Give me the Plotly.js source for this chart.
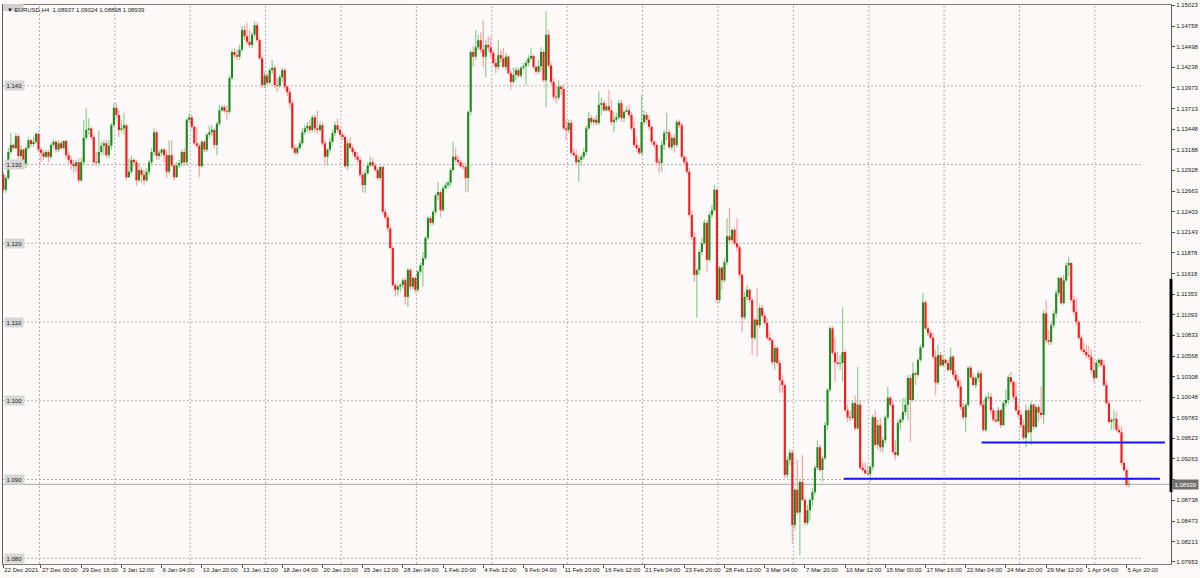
<!DOCTYPE html>
<html><head><meta charset="utf-8">
<script src="https://cdn.plot.ly/plotly-3.0.1.min.js"></script>
<style>html,body{margin:0;padding:0;background:#fffafa;}#chart{width:1200px;height:578px;}</style>
</head><body><div id="chart"></div>
<script>
// EURUSD H4 candles
const opens = [
1.1287,1.1268,1.1283,1.1316,1.1325,1.1321,1.1336,1.1311,1.1319,1.1301,
1.1321,1.1331,1.1326,1.1329,1.1339,1.1319,1.1315,1.1310,1.1316,1.1310,
1.1325,1.1329,1.1319,1.1327,1.1321,1.1330,1.1312,1.1306,1.1301,1.1298,
1.1303,1.1280,1.1303,1.1334,1.1344,1.1346,1.1335,1.1303,1.1302,1.1316,
1.1324,1.1327,1.1312,1.1324,1.1350,1.1372,1.1363,1.1344,1.1346,1.1350,
1.1284,1.1291,1.1306,1.1303,1.1280,1.1293,1.1287,1.1280,1.1291,1.1303,
1.1316,1.1341,1.1311,1.1315,1.1319,1.1312,1.1291,1.1312,1.1299,1.1284,
1.1299,1.1302,1.1316,1.1303,1.1357,1.1360,1.1348,1.1327,1.1324,1.1298,
1.1329,1.1319,1.1338,1.1341,1.1344,1.1325,1.1352,1.1369,1.1373,1.1368,
1.1367,1.1410,1.1443,1.1439,1.1437,1.1446,1.1471,1.1463,1.1456,1.1452,
1.1465,1.1477,1.1458,1.1435,1.1401,1.1413,1.1404,1.1420,1.1423,1.1401,
1.1400,1.1411,1.1420,1.1399,1.1392,1.1378,1.1321,1.1315,1.1321,1.1327,
1.1341,1.1346,1.1349,1.1344,1.1360,1.1346,1.1344,1.1350,1.1327,1.1310,
1.1319,1.1329,1.1340,1.1350,1.1344,1.1338,1.1335,1.1298,1.1327,1.1321,
1.1316,1.1310,1.1306,1.1287,1.1274,1.1289,1.1299,1.1303,1.1299,1.1293,
1.1283,1.1297,1.1240,1.1233,1.1219,1.1194,1.1147,1.1141,1.1145,1.1147,
1.1153,1.1132,1.1166,1.1145,1.1156,1.1141,1.1164,1.1172,1.1181,1.1207,
1.1232,1.1226,1.1240,1.1261,1.1265,1.1242,1.1270,1.1274,1.1277,1.1293,
1.1310,1.1306,1.1303,1.1298,1.1297,1.1283,1.1367,1.1443,1.1437,1.1449,
1.1458,1.1446,1.1437,1.1452,1.1449,1.1442,1.1429,1.1424,1.1439,1.1435,
1.1424,1.1437,1.1416,1.1405,1.1414,1.1420,1.1413,1.1423,1.1425,1.1429,
1.1435,1.1438,1.1424,1.1418,1.1425,1.1443,1.1407,1.1465,1.1426,1.1405,
1.1386,1.1385,1.1399,1.1396,1.1346,1.1344,1.1353,1.1315,1.1312,1.1303,
1.1306,1.1310,1.1316,1.1346,1.1359,1.1354,1.1357,1.1353,1.1376,1.1378,
1.1369,1.1374,1.1369,1.1354,1.1357,1.1360,1.1378,1.1359,1.1367,1.1369,
1.1363,1.1346,1.1325,1.1321,1.1315,1.1354,1.1363,1.1357,1.1348,1.1329,
1.1325,1.1303,1.1302,1.1325,1.1340,1.1341,1.1322,1.1334,1.1325,1.1354,
1.1350,1.1310,1.1303,1.1291,1.1236,1.1208,1.1160,1.1166,1.1189,1.1200,
1.1226,1.1179,1.1236,1.1242,1.1268,1.1128,1.1169,1.1153,1.1176,1.1209,
1.1204,1.1217,1.1200,1.1195,1.1160,1.1106,1.1132,1.1141,1.1128,1.1080,
1.1103,1.1096,1.1118,1.1108,1.1099,1.1080,1.1077,1.1049,1.1067,1.1048,
1.1026,1.1020,1.0906,1.0925,1.0934,1.0842,1.0887,1.0858,1.0897,1.0874,
1.0845,1.0861,1.0874,1.0884,1.0915,1.0941,1.0912,1.0927,1.0969,1.1014,
1.1092,1.1061,1.1049,1.1047,1.1048,1.1062,1.0988,1.0979,1.0978,1.0997,
1.0965,1.0995,1.0915,1.0912,1.0908,1.0907,1.0916,1.0979,1.0944,1.0969,
1.0941,1.0950,1.0979,1.1004,1.0995,1.0935,1.0931,1.0972,1.0976,1.0986,
1.0995,1.1029,1.1001,1.1035,1.1033,1.1052,1.1068,1.1125,1.1092,1.1086,
1.1080,1.1056,1.1023,1.1058,1.1045,1.1052,1.1048,1.1039,1.1056,1.1033,
1.1026,1.1018,1.0992,1.0979,1.0995,1.1042,1.1030,1.1020,1.1029,1.1035,
1.0995,1.0963,1.1004,1.1005,1.0988,1.0976,1.0974,1.0988,1.0969,1.0997,
1.1001,1.1030,1.1024,1.1005,1.0988,1.0982,1.0969,1.0953,1.0988,1.0960,
1.0995,1.0967,1.0992,1.0985,1.0982,1.1111,1.1077,1.1075,1.1096,1.1111,
1.1137,1.1156,1.1124,1.1153,1.1172,1.1175,1.1128,1.1113,1.1100,1.1080,
1.1065,1.1062,1.1058,1.1056,1.1039,1.1029,1.1048,1.1052,1.1045,1.1020,
1.0997,1.0973,1.0976,1.0977,1.0963,1.0960,1.0921,1.0912,1.08937];
const highs = [
1.1291,1.1286,1.1321,1.1340,1.1327,1.1340,1.1339,1.1325,1.1321,1.1324,
1.1335,1.1332,1.1335,1.1341,1.1341,1.1322,1.1319,1.1319,1.1319,1.1327,
1.1332,1.1331,1.1331,1.1330,1.1331,1.1331,1.1316,1.1311,1.1306,1.1306,
1.1308,1.1308,1.1357,1.1372,1.1359,1.1348,1.1338,1.1316,1.1343,1.1329,
1.1331,1.1331,1.1331,1.1353,1.1378,1.1378,1.1369,1.1357,1.1366,1.1352,
1.1308,1.1311,1.1308,1.1306,1.1302,1.1297,1.1293,1.1296,1.1306,1.1321,
1.1346,1.1344,1.1319,1.1321,1.1321,1.1319,1.1331,1.1331,1.1302,1.1303,
1.1306,1.1319,1.1321,1.1359,1.1366,1.1363,1.1350,1.1348,1.1327,1.1331,
1.1331,1.1340,1.1350,1.1350,1.1346,1.1354,1.1376,1.1376,1.1376,1.1374,
1.1413,1.1446,1.1448,1.1446,1.1452,1.1476,1.1477,1.1480,1.1471,1.1468,
1.1482,1.1481,1.1461,1.1439,1.1418,1.1416,1.1423,1.1433,1.1426,1.1410,
1.1414,1.1423,1.1423,1.1401,1.1397,1.1382,1.1325,1.1324,1.1331,1.1346,
1.1350,1.1354,1.1357,1.1363,1.1363,1.1369,1.1354,1.1354,1.1331,1.1321,
1.1334,1.1344,1.1354,1.1359,1.1348,1.1341,1.1338,1.1331,1.1335,1.1325,
1.1319,1.1316,1.1310,1.1291,1.1293,1.1303,1.1310,1.1308,1.1302,1.1296,
1.1299,1.1299,1.1244,1.1236,1.1223,1.1197,1.1150,1.1148,1.1150,1.1156,
1.1156,1.1169,1.1169,1.1158,1.1158,1.1166,1.1175,1.1189,1.1209,1.1235,
1.1235,1.1242,1.1264,1.1278,1.1268,1.1273,1.1278,1.1280,1.1296,1.1329,
1.1321,1.1312,1.1306,1.1303,1.1302,1.1369,1.1446,1.1451,1.1471,1.1465,
1.1468,1.1484,1.1458,1.1463,1.1463,1.1446,1.1435,1.1458,1.1446,1.1448,
1.1442,1.1439,1.1420,1.1423,1.1424,1.1423,1.1425,1.1429,1.1433,1.1439,
1.1448,1.1440,1.1426,1.1433,1.1449,1.1446,1.1495,1.1471,1.1430,1.1410,
1.1401,1.1407,1.1401,1.1402,1.1357,1.1357,1.1357,1.1321,1.1319,1.1312,
1.1313,1.1321,1.1350,1.1367,1.1363,1.1360,1.1363,1.1393,1.1385,1.1382,
1.1378,1.1395,1.1382,1.1367,1.1366,1.1382,1.1382,1.1369,1.1374,1.1376,
1.1367,1.1354,1.1335,1.1325,1.1388,1.1369,1.1367,1.1363,1.1350,1.1331,
1.1327,1.1308,1.1331,1.1344,1.1366,1.1344,1.1338,1.1338,1.1357,1.1357,
1.1353,1.1312,1.1310,1.1296,1.1242,1.1214,1.1169,1.1192,1.1207,1.1230,
1.1230,1.1240,1.1249,1.1274,1.1270,1.1172,1.1171,1.1181,1.1232,1.1245,
1.1219,1.1219,1.1232,1.1198,1.1162,1.1138,1.1147,1.1143,1.1131,1.1105,
1.1143,1.1122,1.1122,1.1111,1.1105,1.1087,1.1080,1.1071,1.1070,1.1052,
1.1033,1.1023,1.0929,1.0938,1.0938,1.0889,1.0925,1.0899,1.0931,1.0877,
1.0868,1.0877,1.0889,1.0918,1.0950,1.0944,1.0930,1.0973,1.1016,1.1095,
1.1095,1.1080,1.1062,1.1058,1.1119,1.1065,1.0995,1.0988,1.1001,1.1007,
1.1043,1.1001,1.0922,1.0922,1.0918,1.0918,1.0982,1.0988,1.0976,1.0978,
1.0954,1.0982,1.1018,1.1006,1.1001,1.0950,1.0976,1.0978,1.1004,1.1004,
1.1033,1.1033,1.1049,1.1037,1.1054,1.1071,1.1137,1.1128,1.1096,1.1090,
1.1086,1.1065,1.1071,1.1062,1.1058,1.1054,1.1052,1.1068,1.1058,1.1039,
1.1033,1.1026,1.0997,1.0997,1.1044,1.1045,1.1035,1.1032,1.1038,1.1039,
1.1001,1.1007,1.1011,1.1010,1.0991,1.0988,1.0992,1.0990,1.1001,1.1014,
1.1033,1.1037,1.1026,1.1024,1.0995,1.0988,1.0976,1.0995,1.0992,1.0999,
1.0997,1.0995,1.0995,1.1018,1.1115,1.1128,1.1090,1.1100,1.1115,1.1141,
1.1158,1.1158,1.1160,1.1176,1.1183,1.1176,1.1133,1.1131,1.1103,1.1084,
1.1073,1.1071,1.1070,1.1065,1.1052,1.1052,1.1054,1.1054,1.1052,1.1025,
1.1001,1.0978,1.0988,1.0986,1.0969,1.0968,1.0924,1.0915,1.09024];
const lows = [
1.1264,1.1264,1.1280,1.1313,1.1319,1.1319,1.1306,1.1306,1.1296,1.1296,
1.1319,1.1322,1.1322,1.1326,1.1315,1.1303,1.1306,1.1308,1.1303,1.1307,
1.1321,1.1315,1.1316,1.1319,1.1319,1.1308,1.1302,1.1293,1.1289,1.1291,
1.1277,1.1278,1.1301,1.1331,1.1338,1.1331,1.1299,1.1298,1.1299,1.1312,
1.1312,1.1308,1.1308,1.1319,1.1348,1.1359,1.1335,1.1341,1.1338,1.1280,
1.1283,1.1287,1.1298,1.1273,1.1278,1.1277,1.1274,1.1278,1.1287,1.1299,
1.1312,1.1306,1.1306,1.1311,1.1303,1.1283,1.1287,1.1297,1.1280,1.1283,
1.1296,1.1298,1.1298,1.1299,1.1353,1.1345,1.1325,1.1321,1.1284,1.1296,
1.1316,1.1316,1.1334,1.1336,1.1321,1.1312,1.1349,1.1367,1.1366,1.1357,
1.1364,1.1407,1.1435,1.1433,1.1433,1.1443,1.1458,1.1453,1.1448,1.1448,
1.1461,1.1456,1.1433,1.1397,1.1397,1.1400,1.1401,1.1415,1.1397,1.1392,
1.1397,1.1405,1.1395,1.1387,1.1372,1.1319,1.1312,1.1312,1.1319,1.1325,
1.1338,1.1341,1.1340,1.1341,1.1341,1.1339,1.1341,1.1324,1.1299,1.1299,
1.1315,1.1325,1.1336,1.1341,1.1335,1.1331,1.1296,1.1293,1.1319,1.1312,
1.1306,1.1302,1.1283,1.1265,1.1264,1.1287,1.1297,1.1297,1.1291,1.1280,
1.1280,1.1237,1.1230,1.1214,1.1192,1.1145,1.1132,1.1134,1.1138,1.1142,
1.1122,1.1119,1.1141,1.1141,1.1137,1.1138,1.1160,1.1145,1.1179,1.1204,
1.1222,1.1223,1.1236,1.1255,1.1233,1.1240,1.1268,1.1270,1.1272,1.1291,
1.1303,1.1299,1.1296,1.1293,1.1265,1.1265,1.1363,1.1424,1.1433,1.1446,
1.1442,1.1424,1.1411,1.1443,1.1435,1.1425,1.1416,1.1420,1.1429,1.1423,
1.1420,1.1414,1.1395,1.1402,1.1407,1.1410,1.1410,1.1420,1.1401,1.1425,
1.1433,1.1421,1.1414,1.1415,1.1418,1.1405,1.1373,1.1423,1.1401,1.1382,
1.1378,1.1382,1.1388,1.1344,1.1331,1.1340,1.1312,1.1310,1.1299,1.1278,
1.1299,1.1306,1.1312,1.1344,1.1350,1.1350,1.1350,1.1350,1.1363,1.1367,
1.1367,1.1367,1.1350,1.1341,1.1354,1.1357,1.1354,1.1354,1.1366,1.1360,
1.1344,1.1322,1.1316,1.1312,1.1312,1.1350,1.1352,1.1344,1.1325,1.1321,
1.1299,1.1289,1.1291,1.1319,1.1331,1.1320,1.1319,1.1315,1.1322,1.1346,
1.1308,1.1299,1.1288,1.1233,1.1204,1.1151,1.1105,1.1160,1.1185,1.1198,
1.1164,1.1176,1.1232,1.1240,1.1124,1.1124,1.1141,1.1150,1.1172,1.1200,
1.1202,1.1198,1.1190,1.1156,1.1087,1.1103,1.1128,1.1124,1.1058,1.1077,
1.1056,1.1092,1.1105,1.1096,1.1077,1.1075,1.1045,1.1039,1.1045,1.1010,
1.1010,1.0902,1.0902,1.0918,1.0819,1.0836,1.0855,1.0804,1.0872,1.0842,
1.0842,1.0849,1.0866,1.0880,1.0912,1.0910,1.0897,1.0925,1.0963,1.1011,
1.1058,1.1024,1.1044,1.1039,1.1024,1.0986,1.0973,1.0974,1.0976,1.0963,
1.0963,1.0912,1.0910,1.0906,1.0905,1.0897,1.0912,1.0941,1.0938,1.0935,
1.0935,1.0946,1.0976,1.0992,1.0932,1.0925,1.0929,1.0963,1.0973,1.0982,
1.0976,1.0948,1.0999,1.1020,1.1030,1.1049,1.1066,1.1090,1.1082,1.1077,
1.1052,1.1007,1.1020,1.1043,1.1044,1.1044,1.1037,1.1037,1.1030,1.1024,
1.1014,1.0988,1.0976,1.0960,1.0992,1.1028,1.1018,1.1016,1.1024,1.0992,
1.0960,1.0960,1.1001,1.0983,1.0973,1.0972,1.0973,1.0965,1.0968,1.0992,
1.0996,1.1020,1.1001,1.0986,1.0978,1.0965,1.0950,1.0941,1.0957,1.0944,
1.0963,1.0965,1.0973,1.0978,1.0971,1.1073,1.1071,1.1071,1.1092,1.1106,
1.1132,1.1122,1.1122,1.1151,1.1158,1.1125,1.1109,1.1096,1.1077,1.1062,
1.1058,1.1054,1.1052,1.1035,1.1024,1.1028,1.1043,1.1043,1.1018,1.0995,
1.0971,1.0963,1.0964,1.0960,1.0958,1.0918,1.0910,1.0891,1.08898];
const closes = [
1.1268,1.1283,1.1316,1.1325,1.1321,1.1336,1.1311,1.1319,1.1301,1.1321,
1.1331,1.1326,1.1329,1.1339,1.1319,1.1315,1.1310,1.1316,1.1310,1.1325,
1.1329,1.1319,1.1327,1.1321,1.1330,1.1312,1.1306,1.1301,1.1298,1.1303,
1.1280,1.1303,1.1334,1.1344,1.1346,1.1335,1.1303,1.1302,1.1316,1.1324,
1.1327,1.1312,1.1324,1.1350,1.1372,1.1363,1.1344,1.1346,1.1350,1.1284,
1.1291,1.1306,1.1303,1.1280,1.1293,1.1287,1.1280,1.1291,1.1303,1.1316,
1.1341,1.1311,1.1315,1.1319,1.1312,1.1291,1.1312,1.1299,1.1284,1.1299,
1.1302,1.1316,1.1303,1.1357,1.1360,1.1348,1.1327,1.1324,1.1298,1.1329,
1.1319,1.1338,1.1341,1.1344,1.1325,1.1352,1.1369,1.1373,1.1368,1.1367,
1.1410,1.1443,1.1439,1.1437,1.1446,1.1471,1.1463,1.1456,1.1452,1.1465,
1.1477,1.1458,1.1435,1.1401,1.1413,1.1404,1.1420,1.1423,1.1401,1.1400,
1.1411,1.1420,1.1399,1.1392,1.1378,1.1321,1.1315,1.1321,1.1327,1.1341,
1.1346,1.1349,1.1344,1.1360,1.1346,1.1344,1.1350,1.1327,1.1310,1.1319,
1.1329,1.1340,1.1350,1.1344,1.1338,1.1335,1.1298,1.1327,1.1321,1.1316,
1.1310,1.1306,1.1287,1.1274,1.1289,1.1299,1.1303,1.1299,1.1293,1.1283,
1.1297,1.1240,1.1233,1.1219,1.1194,1.1147,1.1141,1.1145,1.1147,1.1153,
1.1132,1.1166,1.1145,1.1156,1.1141,1.1164,1.1172,1.1181,1.1207,1.1232,
1.1226,1.1240,1.1261,1.1265,1.1242,1.1270,1.1274,1.1277,1.1293,1.1310,
1.1306,1.1303,1.1298,1.1297,1.1283,1.1367,1.1443,1.1437,1.1449,1.1458,
1.1446,1.1437,1.1452,1.1449,1.1442,1.1429,1.1424,1.1439,1.1435,1.1424,
1.1437,1.1416,1.1405,1.1414,1.1420,1.1413,1.1423,1.1425,1.1429,1.1435,
1.1438,1.1424,1.1418,1.1425,1.1443,1.1407,1.1465,1.1426,1.1405,1.1386,
1.1385,1.1399,1.1396,1.1346,1.1344,1.1353,1.1315,1.1312,1.1303,1.1306,
1.1310,1.1316,1.1346,1.1359,1.1354,1.1357,1.1353,1.1376,1.1378,1.1369,
1.1374,1.1369,1.1354,1.1357,1.1360,1.1378,1.1359,1.1367,1.1369,1.1363,
1.1346,1.1325,1.1321,1.1315,1.1354,1.1363,1.1357,1.1348,1.1329,1.1325,
1.1303,1.1302,1.1325,1.1340,1.1341,1.1322,1.1334,1.1325,1.1354,1.1350,
1.1310,1.1303,1.1291,1.1236,1.1208,1.1160,1.1166,1.1189,1.1200,1.1226,
1.1179,1.1236,1.1242,1.1268,1.1128,1.1169,1.1153,1.1176,1.1209,1.1204,
1.1217,1.1200,1.1195,1.1160,1.1106,1.1132,1.1141,1.1128,1.1080,1.1103,
1.1096,1.1118,1.1108,1.1099,1.1080,1.1077,1.1049,1.1067,1.1048,1.1026,
1.1020,1.0906,1.0925,1.0934,1.0842,1.0887,1.0858,1.0897,1.0874,1.0845,
1.0861,1.0874,1.0884,1.0915,1.0941,1.0912,1.0927,1.0969,1.1014,1.1092,
1.1061,1.1049,1.1047,1.1048,1.1062,1.0988,1.0979,1.0978,1.0997,1.0965,
1.0995,1.0915,1.0912,1.0908,1.0907,1.0916,1.0979,1.0944,1.0969,1.0941,
1.0950,1.0979,1.1004,1.0995,1.0935,1.0931,1.0972,1.0976,1.0986,1.0995,
1.1029,1.1001,1.1035,1.1033,1.1052,1.1068,1.1125,1.1092,1.1086,1.1080,
1.1056,1.1023,1.1058,1.1045,1.1052,1.1048,1.1039,1.1056,1.1033,1.1026,
1.1018,1.0992,1.0979,1.0995,1.1042,1.1030,1.1020,1.1029,1.1035,1.0995,
1.0963,1.1004,1.1005,1.0988,1.0976,1.0974,1.0988,1.0969,1.0997,1.1001,
1.1030,1.1024,1.1005,1.0988,1.0982,1.0969,1.0953,1.0988,1.0960,1.0995,
1.0967,1.0992,1.0985,1.0982,1.1111,1.1077,1.1075,1.1096,1.1111,1.1137,
1.1156,1.1124,1.1153,1.1172,1.1175,1.1128,1.1113,1.1100,1.1080,1.1065,
1.1062,1.1058,1.1056,1.1039,1.1029,1.1048,1.1052,1.1045,1.1020,1.0997,
1.0973,1.0976,1.0977,1.0963,1.0960,1.0921,1.0912,1.0893,1.08939];

// time axis labels (bar index where each label sits)
const timeLabelBars = [0,15,31,47,63,79,95,111,127,143,159,175,191,207,223,239,255,271,287,303,319,335,351,367,383,399,415,431,447];
const timeLabels = ["22 Dec 2021","27 Dec 00:00","29 Dec 16:00","3 Jan 12:00","6 Jan 04:00","10 Jan 20:00","13 Jan 12:00","18 Jan 04:00","20 Jan 20:00","25 Jan 12:00","28 Jan 04:00","1 Feb 20:00","4 Feb 12:00","9 Feb 04:00","11 Feb 20:00","16 Feb 12:00","21 Feb 04:00","23 Feb 20:00","28 Feb 12:00","3 Mar 04:00","7 Mar 20:00","10 Mar 12:00","15 Mar 00:00","17 Mar 16:00","22 Mar 04:00","24 Mar 20:00","29 Mar 12:00","1 Apr 04:00","5 Apr 20:00"];
const priceTicks = [1.15023,1.14758,1.14498,1.14238,1.13973,1.13713,1.13448,1.13188,1.12928,1.12663,1.12403,1.12143,1.11878,1.11618,1.11353,1.11093,1.10833,1.10568,1.10308,1.10048,1.09783,1.09523,1.09263,1.09003,1.08738,1.08473,1.08213,1.07953];
const gridLevels = [1.140,1.130,1.120,1.110,1.100,1.090,1.080];
const gridLabels = ["1.140","1.130","1.120","1.110","1.100","1.090","1.080"];
const lastPrice = 1.08939;
const headerText = "\u25BC EURUSD,H4  1.08937 1.09024 1.08898 1.08939";
// horizontal levels drawn on the chart: price, first bar, last bar
const levelPrices = [1.0901, 1.0947];
const levelStart = [334.5, 389.3];
const levelEnd = [460.3, 462.3];
const rangeMarkTop = 1.1155, rangeMarkBottom = 1.0884;

const idx = opens.map((_, i) => i);
const up = closes.map((c, i) => c >= opens[i]);
const wickCol = up.map(u => u ? '#93cf93' : '#ffa6a6');
const bodyCol = up.map(u => u ? '#1e8c1e' : '#ff1a1a');
const bodyBase = opens.map((o, i) => Math.min(o, closes[i]));
const bodyLen = opens.map((o, i) => Math.max(Math.abs(closes[i] - o), 0.00009));
const wickLen = highs.map((h, i) => h - lows[i]);

const traces = [
  {type:'bar', x: idx, base: lows, y: wickLen, width: 0.5, marker:{color: wickCol, line:{width:0}}, hoverinfo:'skip'},
  {type:'bar', x: idx, base: bodyBase, y: bodyLen, width: 0.85, marker:{color: bodyCol, line:{width:0}}, hoverinfo:'skip'}
];

const F = 'Liberation Sans, Arial, sans-serif';
const FS = 6;
const shapes = [];
gridLevels.forEach(l => shapes.push({type:'line', layer:'below', xref:'paper', yref:'y', x0:0, x1:0.9752, y0:l, y1:l, line:{color:'#b2b2b2', width:1, dash:'2px,2px'}}));
for (let k = 0; k < 15; k++) {
  const xb = 14.4 + 30 * k;
  shapes.push({type:'line', layer:'below', xref:'x', yref:'paper', x0:xb, x1:xb, y0:0, y1:1, line:{color:'#b2b2b2', width:1, dash:'2px,2px'}});
}
shapes.push({type:'line', layer:'below', xref:'paper', yref:'y', x0:0, x1:1, y0:lastPrice, y1:lastPrice, line:{color:'#a9a9a9', width:1}});
levelPrices.forEach((p, i) => shapes.push({type:'line', layer:'above', xref:'x', yref:'y', x0:levelStart[i], x1:levelEnd[i], y0:p, y1:p, line:{color:'#1414ff', width:2}}));
shapes.push({type:'line', layer:'above', xref:'paper', yref:'y', x0:1, x1:1, y0:rangeMarkBottom, y1:rangeMarkTop, line:{color:'#000000', width:3}});
shapes.push({type:'rect', layer:'above', xref:'paper', yref:'paper', x0:0, x1:0.0175, y0:0.989, y1:1.002, fillcolor:'#d0d0d0', line:{width:0}});

const annotations = [];
gridLevels.forEach((l, i) => annotations.push({xref:'paper', yref:'y', x:0, y:l, xanchor:'left', yanchor:'middle', xshift:1, text:gridLabels[i], showarrow:false, bgcolor:'#d6d6d6', borderpad:1.5, font:{family:F, size:FS, color:'#202020'}}));
annotations.push({xref:'paper', yref:'paper', x:0, y:1, xanchor:'left', yanchor:'top', xshift:2, yshift:0, text:headerText, showarrow:false, font:{family:F, size:FS, color:'#202020'}});
annotations.push({xref:'paper', yref:'y', x:1, y:lastPrice, xanchor:'left', yanchor:'middle', xshift:1, text:lastPrice.toFixed(5), showarrow:false, bgcolor:'#707070', borderpad:1.5, font:{family:F, size:FS, color:'#ffffff'}});

const layout = {
  width:1200, height:578,
  margin:{l:3, r:29, t:5, b:14, pad:0},
  paper_bgcolor:'#fffafa', plot_bgcolor:'#fffafa',
  showlegend:false, barmode:'overlay',
  xaxis:{type:'linear', range:[-0.12, 464.7], tickmode:'array', tickvals:timeLabelBars, ticktext:timeLabels,
    ticks:'outside', ticklen:3, tickcolor:'#505050', ticklabelposition:'outside right', tickangle:0,
    tickfont:{family:F, size:FS, color:'#202020'}, showgrid:false, zeroline:false,
    showline:true, linecolor:'#7a7a7a', linewidth:1, mirror:true, fixedrange:true},
  yaxis:{side:'right', range:[1.07927, 1.15027], tickmode:'array', tickvals:priceTicks,
    ticktext:priceTicks.map(v => Math.abs(v - lastPrice) < 0.0008 ? '' : v.toFixed(5)),
    ticks:'outside', ticklen:3, tickcolor:'#505050', tickfont:{family:F, size:FS, color:'#202020'},
    showgrid:false, zeroline:false, showline:true, linecolor:'#5a5a5a', linewidth:1, mirror:true, fixedrange:true},
  shapes: shapes, annotations: annotations
};
Plotly.newPlot('chart', traces, layout, {staticPlot:true, displayModeBar:false});
</script>
</body></html>
